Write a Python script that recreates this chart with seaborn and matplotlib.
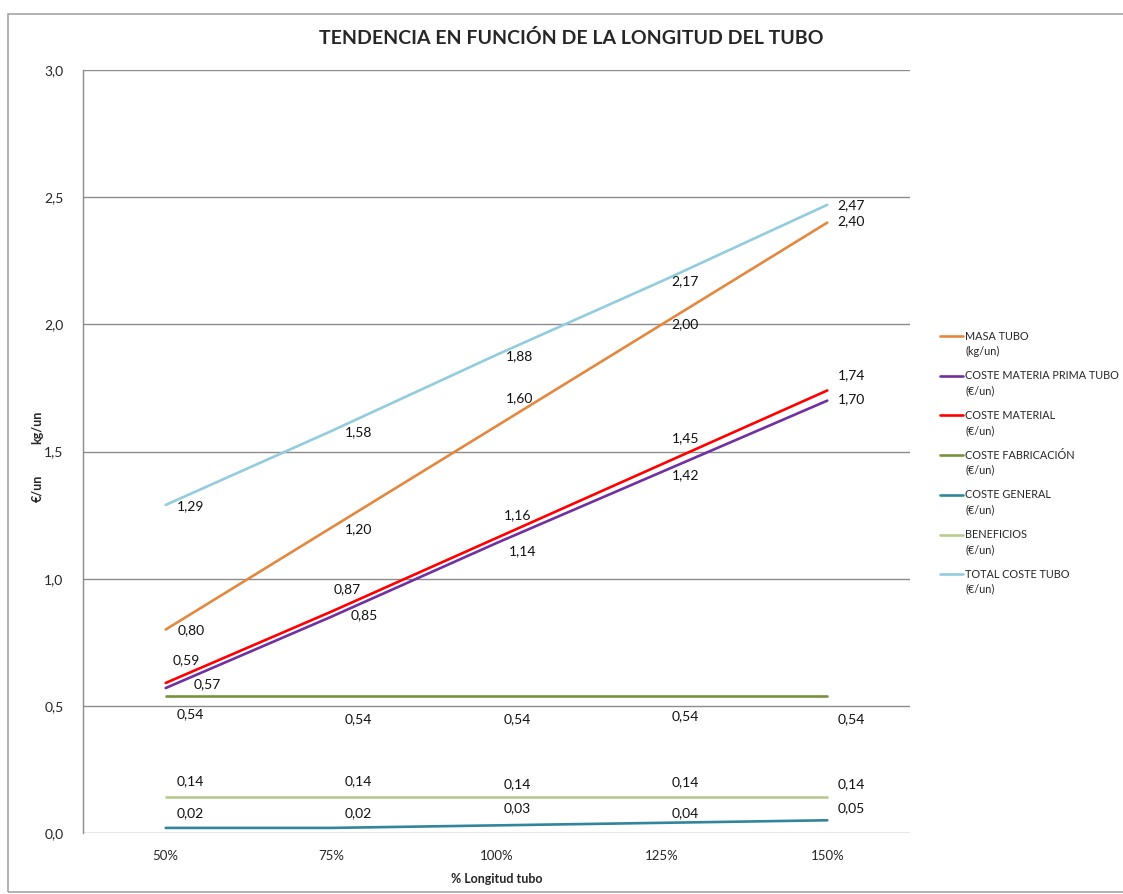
import pandas as pd
import matplotlib.pyplot as plt
import seaborn as sns
from matplotlib.lines import Line2D
from matplotlib.patches import Rectangle

categories = ["50%", "75%", "100%", "125%", "150%"]

masa_tubo = [0.80, 1.20, 1.60, 2.00, 2.40]
coste_materia_prima = [0.57, 0.85, 1.14, 1.42, 1.70]
coste_material = [0.59, 0.87, 1.16, 1.45, 1.74]
coste_fabricacion = [0.54, 0.54, 0.54, 0.54, 0.54]
coste_general = [0.02, 0.02, 0.03, 0.04, 0.05]
beneficios = [0.14, 0.14, 0.14, 0.14, 0.14]
total_coste = [1.29, 1.58, 1.88, 2.17, 2.47]

series_names = ["MASA TUBO", "COSTE MATERIA PRIMA TUBO", "COSTE MATERIAL",
                "COSTE FABRICACIÓN", "COSTE GENERAL", "BENEFICIOS", "TOTAL COSTE TUBO"]
units = ["(kg/un)", "(€/un)", "(€/un)", "(€/un)", "(€/un)", "(€/un)", "(€/un)"]
series_values = [masa_tubo, coste_materia_prima, coste_material, coste_fabricacion,
                 coste_general, beneficios, total_coste]
colors = ["#E3883F", "#7030A0", "#FF0000", "#77933C", "#31859C", "#B5CC8E", "#93CDDD"]

# label offsets in pixels (dx, dy), per series and point
offsets = [
    [(25, -1), (27, -1), (23, 28), (23, 0), (24, 1)],
    [(42, 4), (33, 2), (26, -8), (24, -3), (24, 1)],
    [(21, 23), (16, 23), (21, 23), (24, 26), (24, 15)],
    [(25, -18), (27, -23), (21, -23), (23, -20), (24, -23)],
    [(25, 15), (27, 15), (21, 17), (23, 10), (24, 12)],
    [(25, 16), (27, 16), (21, 13), (23, 15), (24, 13)],
    [(25, -1), (27, -1), (23, -1), (23, 0), (24, 0)],
]


def main():
    sns.set_style("white")
    plt.rcParams['font.family'] = ['Lato', 'DejaVu Sans']

    rows = []
    for name, vals in zip(series_names, series_values):
        for cat, v in zip(categories, vals):
            rows.append({"Longitud": cat, "Valor": v, "Serie": name})
    df = pd.DataFrame(rows)

    fig = plt.figure(figsize=(11.23, 8.94), dpi=100)
    ax = fig.add_axes([83 / 1123, 1 - 833 / 894, (910 - 83) / 1123, (833 - 70) / 894])

    sns.lineplot(data=df, x="Longitud", y="Valor", hue="Serie",
                 palette=dict(zip(series_names, colors)), hue_order=series_names,
                 linewidth=1.9, ax=ax, legend=False, sort=False)

    ax.set_xlim(-0.5, 4.5)
    ax.set_ylim(0, 3.0)
    ax.set_yticks([0, 0.5, 1.0, 1.5, 2.0, 2.5, 3.0])
    ax.set_yticklabels(["0,0", "0,5", "1,0", "1,5", "2,0", "2,5", "3,0"], fontsize=10)
    ax.set_xticks(range(len(categories)))
    ax.set_xticklabels(categories, fontsize=9.5)
    ax.tick_params(axis="both", length=0, pad=14)
    ax.tick_params(axis="x", pad=12)
    ax.yaxis.grid(True, color="#8C8C8C", linewidth=1)
    ax.set_axisbelow(True)
    for s in ["top", "right", "bottom"]:
        ax.spines[s].set_visible(False)
    ax.spines["left"].set_color("#8C8C8C")
    ax.spines["left"].set_linewidth(1)
    ax.set_xlabel("% Longitud tubo", fontsize=9, fontweight="bold", labelpad=8)
    ax.set_ylabel("")

    for vals, offs in zip(series_values, offsets):
        for i, (v, (dx, dy)) in enumerate(zip(vals, offs)):
            ax.annotate(f"{v:.2f}".replace(".", ","), (i, v), xytext=(dx, dy),
                        textcoords="offset pixels", ha="center", va="center",
                        fontsize=10, color="#111111")

    fig.text(37 / 1123, 1 - 427 / 894, "kg/un", rotation=90, ha="center", va="center",
             fontsize=9, fontweight="bold")
    fig.text(37 / 1123, 1 - 488 / 894, "€/un", rotation=90, ha="center", va="center",
             fontsize=9, fontweight="bold")

    fig.text(571 / 1123, 1 - 38 / 894, "TENDENCIA EN FUNCIÓN DE LA LONGITUD DEL TUBO",
             ha="center", va="center", fontsize=14, fontweight="bold")

    # legend
    for k, (name, unit, c) in enumerate(zip(series_names, units, colors)):
        y = 336 + k * 39.7
        fig.add_artist(Line2D([940 / 1123, 963 / 1123], [1 - y / 894, 1 - y / 894],
                              color=c, linewidth=1.9, transform=fig.transFigure))
        fig.text(965 / 1123, 1 - y / 894, name, ha="left", va="center", fontsize=7.8)
        fig.text(965 / 1123, 1 - (y + 15) / 894, unit, ha="left", va="center", fontsize=7.8)

    fig.add_artist(Rectangle((8 / 1123, 0.002), 1.2, 1 - 14 / 894 - 0.002, fill=False,
                             edgecolor="#A6A6A6", linewidth=1.2, transform=fig.transFigure))

    fig.savefig("out.png", dpi=100)
    plt.close(fig)


if __name__ == "__main__":
    main()
